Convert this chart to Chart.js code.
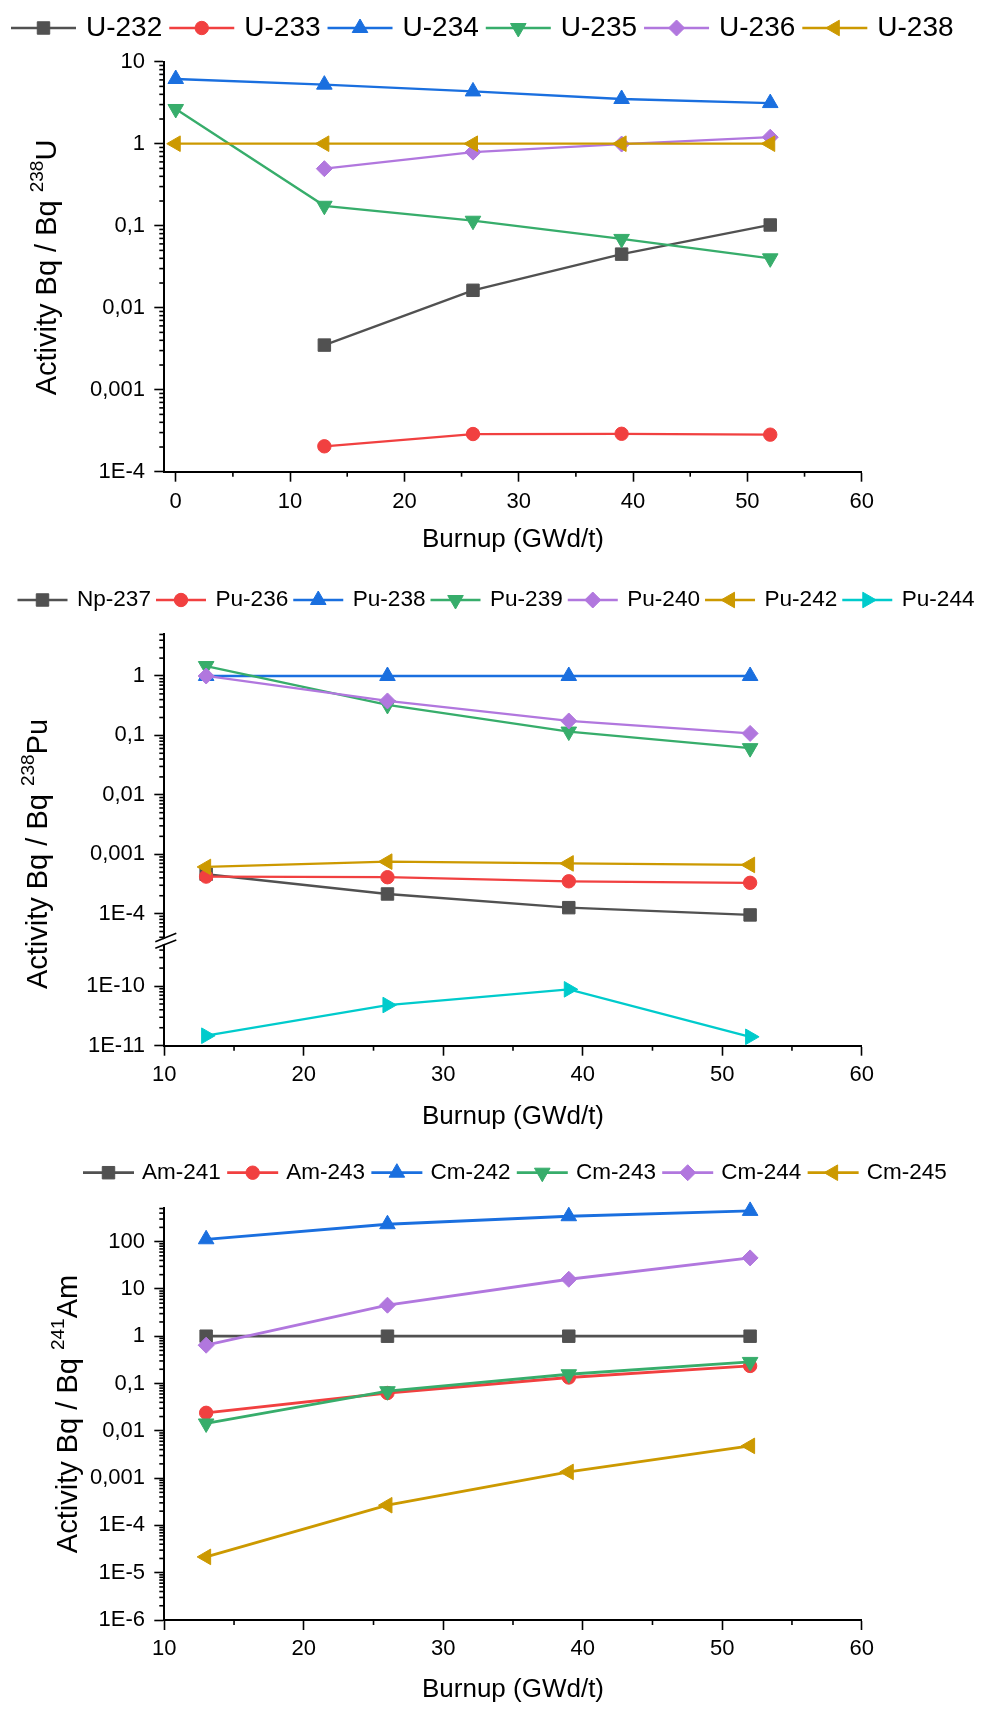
<!DOCTYPE html>
<html><head><meta charset="utf-8">
<script src="https://cdn.jsdelivr.net/npm/chart.js@4.4.1/dist/chart.umd.min.js"></script>
<style>
html,body{margin:0;padding:0;background:#fff;}
#wrap{position:relative;width:981px;height:1709px;background:#fff;}
canvas{position:absolute;left:0;}
</style></head><body>
<div id="wrap">
<canvas id="c1" width="981" height="565" style="top:0px"></canvas>
<canvas id="c2" width="981" height="575" style="top:565px"></canvas>
<canvas id="c3" width="981" height="569" style="top:1140px"></canvas>
</div>
<script>
// ---------- DATA ----------
const burnupU = [0, 13, 26, 39, 52];
const labelsU = ['U-232', 'U-233', 'U-234', 'U-235', 'U-236', 'U-238'];
const u232 = [null, 0.0035, 0.0163, 0.045, 0.102];
const u233 = [null, 0.000204, 0.000288, 0.00029, 0.000283];
const u234 = [6.15, 5.25, 4.34, 3.51, 3.13];
const u235 = [2.65, 0.175, 0.115, 0.069, 0.040];
const u236 = [null, 0.496, 0.79, 0.99, 1.2];
const u238 = [1, 1, 1, 1, 1];

const burnupPu = [13, 26, 39, 52];
const labelsPu = ['Np-237', 'Pu-236', 'Pu-238', 'Pu-239', 'Pu-240', 'Pu-242', 'Pu-244'];
const np237 = [0.00046, 0.000214, 0.000126, 0.000095];
const pu236 = [0.00042, 0.00041, 0.00035, 0.00033];
const pu238 = [1, 1, 1, 1];
const pu239 = [1.47, 0.325, 0.116, 0.061];
const pu240 = [1.0, 0.38, 0.175, 0.108];
const pu242 = [0.00061, 0.00075, 0.0007, 0.00066];
const pu244 = [1.47e-11, 4.8e-11, 8.8e-11, 1.41e-11];

const burnupAm = [13, 26, 39, 52];
const labelsAm = ['Am-241', 'Am-243', 'Cm-242', 'Cm-243', 'Cm-244', 'Cm-245'];
const am241 = [1, 1, 1, 1];
const am243 = [0.024, 0.063, 0.134, 0.235];
const cm242 = [112, 233, 344, 446];
const cm243 = [0.0143, 0.0687, 0.157, 0.286];
const cm244 = [0.645, 4.52, 16, 45.2];
const cm245 = [2.16e-5, 2.67e-4, 0.00135, 0.0048];

// ---------- TICKS ----------
const xTicksU = [0, 10, 20, 30, 40, 50, 60];
const xMinorU = [5, 15, 25, 35, 45, 55];
const xTicksB = [10, 20, 30, 40, 50, 60];
const xMinorB = [15, 25, 35, 45, 55];
const yTicksU = [1e-4, 1e-3, 1e-2, 1e-1, 1, 10];
const yLabelsU = ['1E-4', '0,001', '0,01', '0,1', '1', '10'];
const yTicksPuTop = [1e-4, 1e-3, 1e-2, 1e-1, 1];
const yLabelsPuTop = ['1E-4', '0,001', '0,01', '0,1', '1'];
const yTicksPuBot = [1e-11, 1e-10];
const yLabelsPuBot = ['1E-11', '1E-10'];
const yTicksAm = [1e-6, 1e-5, 1e-4, 1e-3, 1e-2, 1e-1, 1, 10, 100];
const yLabelsAm = ['1E-6', '1E-5', '1E-4', '0,001', '0,01', '0,1', '1', '10', '100'];

// ---------- STYLE ----------
const COLORS = ['#515151', '#F14040', '#1A6FDF', '#37AD6B', '#B177DE', '#CC9900', '#00CBCC'];
const MARKERS = [
  {style: 'rect', rot: 0, r: 8.8},
  {style: 'circle', rot: 0, r: 6.7},
  {style: 'triangle', rot: 0, r: 9},
  {style: 'triangle', rot: 180, r: 9},
  {style: 'rectRot', rot: 0, r: 8},
  {style: 'triangle', rot: -90, r: 9},
  {style: 'triangle', rot: 90, r: 9}
];
const FONT = '"Liberation Sans", Arial, Helvetica, sans-serif';
Chart.defaults.font.family = FONT;
Chart.defaults.color = '#000';

function series(xs, ys) { return xs.map((x, i) => ({x: x, y: ys[i]})); }
function makeDatasets(xs, labels, values, lw, axisIds) {
  return labels.map((lab, i) => ({
    label: lab,
    data: series(xs, values[i]),
    borderColor: COLORS[i], backgroundColor: COLORS[i],
    pointBackgroundColor: COLORS[i], pointBorderColor: COLORS[i], pointBorderWidth: 1,
    pointStyle: MARKERS[i].style, pointRotation: MARKERS[i].rot,
    pointRadius: MARKERS[i].r, pointHoverRadius: MARKERS[i].r,
    borderWidth: lw, tension: 0, fill: false, clip: false, order: -i,
    yAxisID: axisIds ? axisIds[i] : 'y'
  }));
}
function logMinor(min, max) {
  const out = [];
  for (let e = Math.floor(Math.log10(min)); e <= Math.ceil(Math.log10(max)); e++) {
    for (let k = 2; k <= 9; k++) {
      const v = k * Math.pow(10, e);
      if (v >= min * 0.9999 && v <= max * 1.0001) out.push(v);
    }
  }
  return out;
}
function labelFrom(ticks, labels) {
  return function (v) {
    for (let i = 0; i < ticks.length; i++) {
      if (Math.abs(Math.log10(ticks[i]) - Math.log10(v)) < 1e-6) return labels[i];
    }
    return '';
  };
}
const GRID = {display: true, drawOnChartArea: false, drawTicks: true, tickLength: 10, tickWidth: 1.6, tickColor: '#000'};
const BORDER = {display: true, color: '#000', width: 2};

function xAxis(min, ticks, height, labelPad, titlePadBottom) {
  return {
    type: 'linear', position: 'bottom', min: min, max: 60, bounds: 'data',
    afterBuildTicks: s => { s.ticks = ticks.map(v => ({value: v})); },
    afterFit: s => { s.height = height; },
    ticks: {font: {size: 22}, color: '#000', padding: labelPad, maxRotation: 0, autoSkip: false, callback: v => String(v)},
    grid: GRID, border: BORDER,
    title: {display: true, text: 'Burnup (GWd/t)', font: {size: 26}, color: '#000', padding: {top: 0, bottom: titlePadBottom}}
  };
}
function yAxis(min, max, ticks, labels, extra) {
  return Object.assign({
    type: 'logarithmic', position: 'left', min: min, max: max, bounds: 'data',
    afterBuildTicks: s => { s.ticks = ticks.map(v => ({value: v})); },
    afterFit: s => { s.width = 164.3; },
    ticks: {font: {size: 22}, color: '#000', padding: 9.3, autoSkip: false, callback: labelFrom(ticks, labels)},
    grid: GRID, border: BORDER
  }, extra || {});
}

// ---------- PLUGINS ----------
const lineLegend = {
  id: 'lineLegend',
  afterDraw(chart, args, o) {
    const ctx = chart.ctx;
    ctx.save();
    ctx.font = o.fontSize + 'px ' + FONT;
    ctx.textBaseline = 'middle';
    ctx.textAlign = 'left';
    let x = o.x;
    const y = o.y;
    chart.data.datasets.forEach(ds => {
      ctx.strokeStyle = ds.borderColor;
      ctx.lineWidth = o.lineWidth;
      ctx.beginPath(); ctx.moveTo(x, y); ctx.lineTo(x + o.boxW, y); ctx.stroke();
      ctx.fillStyle = ds.pointBackgroundColor;
      ctx.strokeStyle = ds.pointBorderColor;
      ctx.lineWidth = 1;
      Chart.helpers.drawPoint(ctx, {pointStyle: ds.pointStyle, rotation: ds.pointRotation, radius: ds.pointRadius, borderWidth: 1}, x + o.boxW / 2, y);
      ctx.fillStyle = '#000';
      const tx = x + o.boxW + o.gap;
      ctx.fillText(ds.label, tx, y + (o.dy || 0));
      x = tx + ctx.measureText(ds.label).width + o.pad;
    });
    ctx.restore();
  }
};
const yTitle = {
  id: 'yTitle',
  afterDraw(chart, args, o) {
    const ctx = chart.ctx;
    ctx.save();
    ctx.fillStyle = '#000';
    ctx.textBaseline = 'alphabetic';
    ctx.textAlign = 'left';
    const f1 = o.size + 'px ' + FONT, f2 = o.supSize + 'px ' + FONT;
    ctx.font = f1; const w1 = ctx.measureText(o.pre).width; const w3 = ctx.measureText(o.post).width;
    ctx.font = f2; const w2 = ctx.measureText(o.sup).width;
    const total = w1 + w2 + w3;
    ctx.translate(o.x, o.cy);
    ctx.rotate(-Math.PI / 2);
    let s = -total / 2;
    ctx.font = f1; ctx.fillText(o.pre, s, 0);
    ctx.font = f2; ctx.fillText(o.sup, s + w1, -o.raise);
    ctx.font = f1; ctx.fillText(o.post, s + w1 + w2, 0);
    ctx.restore();
  }
};
const minorTicks = {
  id: 'minorTicks',
  afterDraw(chart, args, o) {
    const ctx = chart.ctx;
    ctx.save();
    ctx.strokeStyle = '#000';
    ctx.lineWidth = 1.6;
    (o.list || []).forEach(item => {
      const sc = chart.scales[item.id];
      if (!sc) return;
      item.values.forEach(v => {
        if (v < sc.min || v > sc.max) return;
        const p = sc.getPixelForValue(v);
        ctx.beginPath();
        if (sc.isHorizontal()) {
          ctx.moveTo(p, sc.top); ctx.lineTo(p, sc.top + o.len);
        } else {
          ctx.moveTo(sc.right - o.len, p); ctx.lineTo(sc.right, p);
        }
        ctx.stroke();
      });
    });
    ctx.restore();
  }
};
const axisBreak = {
  id: 'axisBreak',
  afterDraw(chart, args, o) {
    const sc = chart.scales[o.id];
    if (!sc) return;
    const ctx = chart.ctx;
    const b = sc.bottom, x0 = sc.right;
    ctx.save();
    ctx.fillStyle = '#fff';
    ctx.beginPath();
    ctx.moveTo(x0 - 9, b + 1.5); ctx.lineTo(x0 + 12, b - 6.9);
    ctx.lineTo(x0 + 12, b - 1.8); ctx.lineTo(x0 - 9, b + 6.5);
    ctx.closePath(); ctx.fill();
    ctx.strokeStyle = '#000';
    ctx.lineWidth = 1.6;
    ctx.beginPath();
    ctx.moveTo(x0 - 9, b + 0.7); ctx.lineTo(x0 + 12, b - 7.7);
    ctx.moveTo(x0 - 9, b + 7.3); ctx.lineTo(x0 + 12, b - 1.0);
    ctx.stroke();
    ctx.restore();
  }
};
const PLUGINS = [lineLegend, yTitle, minorTicks];

// ---------- CHART 1 ----------
new Chart(document.getElementById('c1'), {
  type: 'line',
  data: {datasets: makeDatasets(burnupU, labelsU, [u232, u233, u234, u235, u236, u238], 2.3)},
  plugins: PLUGINS,
  options: {
    responsive: false, animation: false, events: [],
    layout: {padding: {top: 61.7, left: 0, right: 119.3, bottom: 0}},
    plugins: {
      legend: {display: false}, tooltip: {enabled: false},
      lineLegend: {x: 11, y: 28, fontSize: 28, boxW: 65, gap: 10, pad: 7, lineWidth: 2.5},
      yTitle: {x: 56, cy: 267.5, pre: 'Activity Bq / Bq ', sup: '238', post: 'U', size: 29, supSize: 19, raise: 13},
      minorTicks: {len: 5, list: [{id: 'x', values: xMinorU}, {id: 'y', values: logMinor(1e-4, 10)}]}
    },
    scales: {
      x: xAxis(-1, xTicksU, 93.3, 6.8, 9.4),
      y: yAxis(1e-4, 10, yTicksU, yLabelsU)
    }
  }
});

// ---------- CHART 2 ----------
const puAxes = ['yTop', 'yTop', 'yTop', 'yTop', 'yTop', 'yTop', 'yBot'];
new Chart(document.getElementById('c2'), {
  type: 'line',
  data: {datasets: makeDatasets(burnupPu, labelsPu, [np237, pu236, pu238, pu239, pu240, pu242, pu244], 2.3, puAxes)},
  plugins: PLUGINS.concat([axisBreak]),
  options: {
    responsive: false, animation: false, events: [],
    layout: {padding: {top: 69, left: 0, right: 119.3, bottom: 0}},
    plugins: {
      legend: {display: false}, tooltip: {enabled: false},
      lineLegend: {x: 17.5, y: 35, fontSize: 22.6, boxW: 50, gap: 9.4, pad: 5, lineWidth: 2.5},
      yTitle: {x: 47, cy: 289, pre: 'Activity Bq / Bq ', sup: '238', post: 'Pu', size: 29, supSize: 19, raise: 13},
      minorTicks: {len: 5, list: [{id: 'x', values: xMinorB}, {id: 'yTop', values: logMinor(3.46e-5, 5.09)}, {id: 'yBot', values: logMinor(1e-11, 5.68e-10)}]},
      axisBreak: {id: 'yTop'}
    },
    scales: {
      x: xAxis(10, xTicksB, 94.3, 6.1, 7.7),
      yBot: yAxis(1e-11, 5.68e-10, yTicksPuBot, yLabelsPuBot, {stack: 'ys', stackWeight: 104.7, weight: 0}),
      yTop: yAxis(3.46e-5, 5.09, yTicksPuTop, yLabelsPuTop, {stack: 'ys', stackWeight: 307, weight: 1})
    }
  }
});

// ---------- CHART 3 ----------
new Chart(document.getElementById('c3'), {
  type: 'line',
  data: {datasets: makeDatasets(burnupAm, labelsAm, [am241, am243, cm242, cm243, cm244, cm245], 2.8)},
  plugins: PLUGINS,
  options: {
    responsive: false, animation: false, events: [],
    layout: {padding: {top: 68.3, left: 0, right: 119.3, bottom: 0}},
    plugins: {
      legend: {display: false}, tooltip: {enabled: false},
      lineLegend: {x: 83, y: 32.7, fontSize: 22.5, boxW: 51, gap: 8.1, pad: 6.3, lineWidth: 2.8},
      yTitle: {x: 77, cy: 274, pre: 'Activity Bq / Bq ', sup: '241', post: 'Am', size: 29, supSize: 19, raise: 13},
      minorTicks: {len: 5, list: [{id: 'x', values: xMinorB}, {id: 'y', values: logMinor(1e-6, 506)}]}
    },
    scales: {
      x: xAxis(10, xTicksB, 89, 6.1, 3.4),
      y: yAxis(1e-6, 506, yTicksAm, yLabelsAm)
    }
  }
});
</script>
</body></html>
